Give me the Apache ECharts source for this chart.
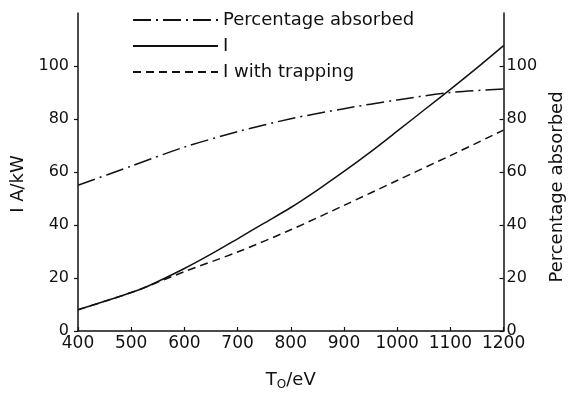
<!DOCTYPE html>
<html>
<head>
<meta charset="utf-8">
<script src="https://cdn.jsdelivr.net/npm/echarts@6/dist/echarts.min.js"></script>
<style>
html,body{margin:0;padding:0;background:#fff;}
#chart{width:574px;height:396px;}
</style>
</head>
<body>
<div id="chart"></div>
<script>
// Data
var xTicks = [400, 500, 600, 700, 800, 900, 1000, 1100, 1200];
var leftTicks = [0, 20, 40, 60, 80, 100];
var rightTicks = [0, 20, 40, 60, 80, 100];

var iX = [400, 450, 500, 530, 600, 650, 700, 750, 800, 850, 900, 950, 1000, 1050, 1100, 1150, 1200];
var iY = [8.0, 11.2, 14.5, 16.8, 23.6, 29.0, 34.8, 40.7, 46.6, 53.2, 60.2, 67.6, 75.4, 83.3, 91.2, 99.3, 107.7];

var trapX = [400, 450, 500, 530, 600, 700, 800, 900, 1000, 1100, 1200];
var trapY = [8.0, 11.2, 14.5, 16.8, 22.4, 29.8, 38.2, 47.4, 56.8, 66.2, 75.8];

var pctX = [400, 500, 600, 700, 800, 900, 1000, 1100, 1200];
var pctY = [55.0, 62.2, 69.4, 75.2, 80.1, 83.9, 87.2, 90.0, 91.3];

var names = ['Percentage absorbed', 'I', 'I with trapping'];

function pairs(xs, ys) { return xs.map(function (x, i) { return [x, ys[i]]; }); }

var FONT = 'DejaVu Sans';
var INK = '#111';

var chart = echarts.init(document.getElementById('chart'), null, {renderer: 'canvas'});
chart.setOption({
  backgroundColor: '#fff',
  animation: false,
  textStyle: {fontFamily: FONT, color: INK},
  grid: {left: 78, right: 64, top: 13, bottom: 61, containLabel: false},
  legend: {
    orient: 'vertical',
    left: 127,
    top: 6,
    itemWidth: 85,
    itemHeight: 20,
    itemGap: 8,
    data: names,
    itemStyle: {color: 'rgba(0,0,0,0)', borderWidth: 0, opacity: 0},
    textStyle: {fontFamily: FONT, fontSize: 18, color: INK}
  },
  xAxis: {
    type: 'value',
    min: xTicks[0],
    max: xTicks[xTicks.length - 1],
    interval: 100,
    name: '{t|T}{s|O}{t|/eV}',
    nameLocation: 'middle',
    nameGap: 38,
    nameTextStyle: {
      rich: {
        t: {fontFamily: FONT, fontSize: 18, color: INK},
        s: {fontFamily: FONT, fontSize: 12, color: INK, padding: [10, 0, 0, 0]}
      }
    },
    axisLine: {show: true, lineStyle: {color: INK, width: 1.5}},
    axisTick: {show: true, inside: true, length: 4, lineStyle: {color: INK, width: 1.2}},
    axisLabel: {fontFamily: FONT, fontSize: 17, color: INK, margin: 4,
      formatter: function (v) { return String(v); }},
    splitLine: {show: false}
  },
  yAxis: [{
    type: 'value',
    position: 'left',
    min: 0,
    max: 120,
    interval: 20,
    name: 'I A/kW',
    nameLocation: 'middle',
    nameGap: 48,
    nameRotate: 90,
    nameTextStyle: {fontFamily: FONT, fontSize: 18, color: INK, padding: [0, 24, 0, 0]},
    axisLine: {show: true, lineStyle: {color: INK, width: 1.5}},
    axisTick: {show: true, inside: false, length: 4, lineStyle: {color: INK, width: 1.2},
      customValues: leftTicks},
    axisLabel: {
      fontFamily: FONT, fontSize: 16, color: INK, margin: 9,
      customValues: leftTicks,
      formatter: function (v) { return String(v); }
    },
    splitLine: {show: false}
  }, {
    type: 'value',
    position: 'right',
    min: 0,
    max: 120,
    interval: 20,
    name: 'Percentage absorbed',
    nameLocation: 'middle',
    nameGap: 40,
    nameRotate: 90,
    nameTextStyle: {fontFamily: FONT, fontSize: 18, color: INK, padding: [0, 30, 0, 0]},
    axisLine: {show: true, lineStyle: {color: INK, width: 1.5}},
    axisTick: {show: true, inside: true, length: 4, lineStyle: {color: INK, width: 1.2},
      customValues: rightTicks},
    axisLabel: {
      fontFamily: FONT, fontSize: 16, color: INK, margin: 3,
      customValues: rightTicks,
      formatter: function (v) { return String(v); }
    },
    splitLine: {show: false}
  }],
  series: [{
    name: names[0],
    type: 'line',
    yAxisIndex: 1,
    smooth: 0.3,
    symbol: 'none',
    data: pairs(pctX, pctY),
    lineStyle: {color: INK, width: 1.5, type: [18, 5, 2, 5]},
    itemStyle: {color: INK}
  }, {
    name: names[1],
    type: 'line',
    yAxisIndex: 0,
    smooth: 0.3,
    symbol: 'none',
    data: pairs(iX, iY),
    lineStyle: {color: INK, width: 1.5, type: 'solid'},
    itemStyle: {color: INK}
  }, {
    name: names[2],
    type: 'line',
    yAxisIndex: 0,
    smooth: 0.3,
    symbol: 'none',
    data: pairs(trapX, trapY),
    lineStyle: {color: INK, width: 1.5, type: [8, 5]},
    itemStyle: {color: INK}
  }]
});
</script>
</body>
</html>
